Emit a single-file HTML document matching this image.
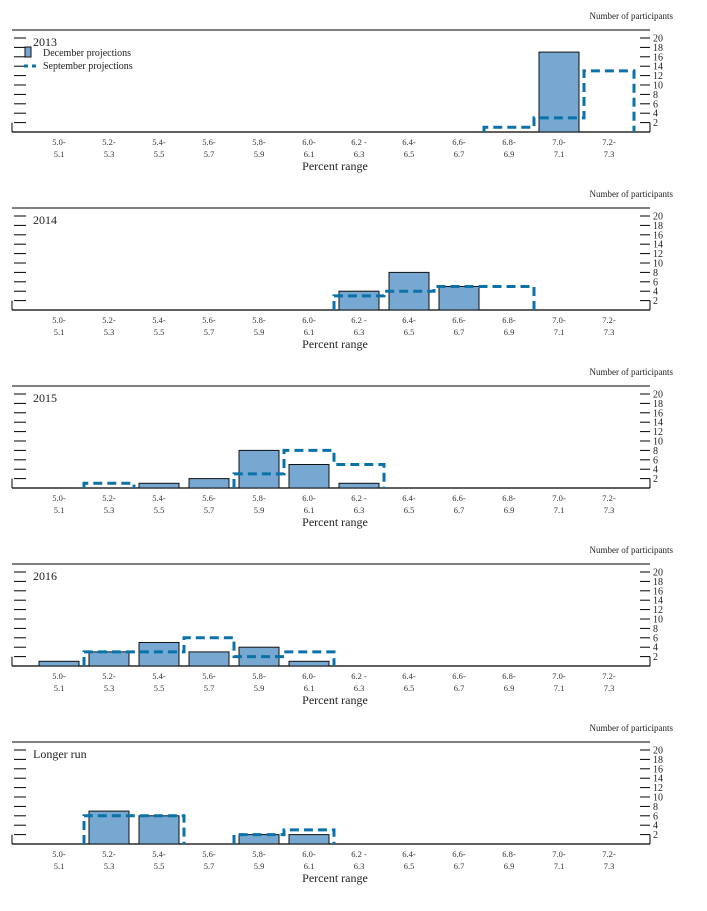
<!DOCTYPE html>
<html><head><meta charset="utf-8"><style>
body{margin:0;background:#fff;}
svg{display:block;font-family:"Liberation Serif",serif;}
</style></head><body>
<svg id="chart" width="707" height="911" viewBox="0 0 707 911" xmlns="http://www.w3.org/2000/svg"></svg>
<script>
const categories=["5.0-|5.1","5.2-|5.3","5.4-|5.5","5.6-|5.7","5.8-|5.9","6.0-|6.1","6.2 -|6.3","6.4-|6.5","6.6-|6.7","6.8-|6.9","7.0-|7.1","7.2-|7.3"];
const yTicks=[2,4,6,8,10,12,14,16,18,20];
const panelTitles=["2013","2014","2015","2016","Longer run"];
const dec2013=[0,0,0,0,0,0,0,0,0,0,17,0];
const sep2013=[0,0,0,0,0,0,0,0,0,1,3,13];
const dec2014=[0,0,0,0,0,0,4,8,5,0,0,0];
const sep2014=[0,0,0,0,0,0,3,4,5,5,0,0];
const dec2015=[0,0,1,2,8,5,1,0,0,0,0,0];
const sep2015=[0,1,0,0,3,8,5,0,0,0,0,0];
const dec2016=[1,3,5,3,4,1,0,0,0,0,0,0];
const sep2016=[0,3,3,6,2,3,0,0,0,0,0,0];
const decLR=[0,7,6,0,2,2,0,0,0,0,0,0];
const sepLR=[0,6,6,0,2,3,0,0,0,0,0,0];
const decSeries=[dec2013,dec2014,dec2015,dec2016,decLR];
const sepSeries=[sep2013,sep2014,sep2015,sep2016,sepLR];

const svg=document.getElementById('chart');
const NS='http://www.w3.org/2000/svg';
function mk(tag,attrs,parent,text){const e=document.createElementNS(NS,tag);for(const k in attrs)e.setAttribute(k,attrs[k]);if(text!==undefined)e.textContent=text;parent.appendChild(e);return e;}
const X0=12,X1=650,step=50,firstCenter=59,unit=4.7;
function xc(i){return firstCenter+i*step;}
function y(v,base){return base-v*unit;}

panelTitles.forEach((title,p)=>{
  const base=132+p*178, top=base-102;
  const g=mk('g',{},svg);
  
  
  const nt=mk('text',{x:673,y:top-11,'font-size':9,'text-anchor':'end',fill:'#222'},g,'Number of participants');
  
  mk('line',{x1:X0,y1:top,x2:X1,y2:top,stroke:'#000','stroke-width':1},g);
  const bl=mk('line',{x1:X0,y1:base,x2:X1,y2:base,stroke:'#000','stroke-width':1.3},g);
  
  mk('line',{x1:X0,y1:base,x2:X0,y2:y(2,base),stroke:'#000','stroke-width':1},g);
  mk('line',{x1:X1,y1:base,x2:X1,y2:y(2,base),stroke:'#000','stroke-width':1},g);
  yTicks.forEach(t=>{
    const yy=y(t,base);
    mk('line',{x1:X0+2,y1:yy,x2:X0+14,y2:yy,stroke:'#000','stroke-width':1},g);
    mk('line',{x1:X1-10,y1:yy,x2:X1,y2:yy,stroke:'#000','stroke-width':1},g);
    const tl=mk('text',{x:X1+3,y:yy+3.5,'font-size':10,fill:'#222'},g,String(t));
    
  });
  const tt=mk('text',{x:33,y:top+16,'font-size':12,fill:'#222'},g,title);
  
  categories.forEach((c,i)=>{
    const [a,b]=c.split('|');
    const t1=mk('text',{x:xc(i),y:base+13,'font-size':8.5,'text-anchor':'middle',fill:'#333'},g,a);
    
    const t2=mk('text',{x:xc(i),y:base+25,'font-size':8.5,'text-anchor':'middle',fill:'#333'},g,b);
    
  });
  const xt=mk('text',{x:335,y:base+38,'font-size':12,'text-anchor':'middle',fill:'#222'},g,'Percent range');
  
  decSeries[p].forEach((v,i)=>{
    if(!v)return;
    const r=mk('rect',{x:xc(i)-20,y:y(v,base),width:40,height:v*unit,fill:'#77a8d1',stroke:'#111','stroke-width':1},g);
    
  });
  const s=sepSeries[p];let d='';let i=0;
  while(i<s.length){
    if(!s[i]){i++;continue;}
    let e=xc(i)-25;d+='M'+e+','+base;
    while(i<s.length&&s[i]){d+=' L'+(xc(i)-25)+','+y(s[i],base)+' L'+(xc(i)+25)+','+y(s[i],base);i++;}
    d+=' L'+(xc(i-1)+25)+','+base+' ';
  }
  if(d){const pa=mk('path',{d:d,fill:'none',stroke:'#0a72a8','stroke-width':3,'stroke-dasharray':'9,5'},g);
    }
  if(p===0){
    const lg=mk('g',{},g);
    
    mk('rect',{x:25,y:47,width:6,height:10,fill:'#77a8d1',stroke:'#111','stroke-width':1},lg);
    mk('text',{x:43,y:56,'font-size':10,fill:'#222'},lg,'December projections');
    mk('line',{x1:24,y1:66,x2:36,y2:66,stroke:'#0a72a8','stroke-width':3,'stroke-dasharray':'4,4'},lg);
    mk('text',{x:43,y:69,'font-size':10,fill:'#222'},lg,'September projections');
  }
});
</script>
</body></html>
